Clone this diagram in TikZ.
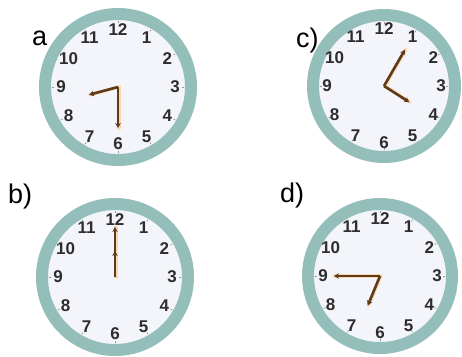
\documentclass[tikz,border=0pt]{standalone}
\usepackage{fontspec}
\setmainfont{Liberation Sans}
\usetikzlibrary{arrows.meta,calc}
\definecolor{ringteal}{RGB}{148,190,186}
\definecolor{facewhite}{RGB}{243,245,250}
\definecolor{numgray}{RGB}{45,45,45}
\definecolor{tickgray}{RGB}{150,150,150}
\definecolor{handbrown}{RGB}{95,58,25}
\definecolor{handglow}{RGB}{240,175,105}

\begin{document}
\begin{tikzpicture}[x=1pt, y=-1pt,
  face/.style={circle, draw=ringteal, line width=12pt, fill=facewhite, inner sep=0pt},
  num/.style={font=\bfseries\fontsize{17}{17}\selectfont, text=numgray, inner sep=0pt},
  lbl/.style={font=\fontsize{27}{30}\selectfont, inner sep=0pt, anchor=base west},
  hand/.style={-{Stealth[length=5pt, width=5.5pt]}, line width=2.6pt, draw=handbrown},
  glow/.style={line width=3.4pt, draw=handglow!50, line cap=round},
]
\useasboundingbox (0,0) rectangle (462,356);

% faces, numbers and ticks
\foreach \name/\cx/\cy/\rr in {ca/118/87/79, cb/115/277/79, cc/384/86/77, cd/380/276/78} {
  \node[face, minimum size={2*\rr*1pt-12pt}] (\name) at (\cx,\cy) {};
  \foreach \h in {1,...,12} {
    \node[num] at ([shift={(30*\h-90:57)}]\name.center) {\h};
    \draw[tickgray, line width=0.7pt] ([shift={(30*\h-90:\rr-15)}]\name.center)
      -- ([shift={(30*\h-90:\rr-13)}]\name.center);
  }
}

% labels
\node[lbl] (la) at (32,45) {a};
\node[lbl] (lc) at (296,47) {c)};
\node[lbl] (lb) at (8,203) {b)};
\node[lbl] (ld) at (280,202) {d)};

% hand tips
\coordinate (ca-min) at ([shift={(90:41)}]ca.center);
\coordinate (ca-hr) at ([shift={(165:30)}]ca.center);
\coordinate (cc-min) at ([shift={(-60:42)}]cc.center);
\coordinate (cc-hr) at ([shift={(32.5:30)}]cc.center);
\coordinate (cb-min) at ([shift={(270:50)}]cb.center);
\coordinate (cb-hr) at ([shift={(270:26)}]cb.center);
\coordinate (cd-min) at ([shift={(180:46)}]cd.center);
\coordinate (cd-hr) at ([shift={(112.5:32)}]cd.center);

% hands
\foreach \name in {ca,cb,cc,cd} {
  \draw[glow] ([xshift=0.8pt]\name.center) -- ([xshift=0.8pt]\name-min);
  \draw[glow] ([xshift=0.8pt]\name.center) -- ([xshift=0.8pt]\name-hr);
}
\foreach \name in {ca,cb,cc,cd} {
  \draw[hand] (\name.center) -- (\name-hr);
  \draw[hand] (\name.center) -- (\name-min);
}
\end{tikzpicture}
\end{document}
